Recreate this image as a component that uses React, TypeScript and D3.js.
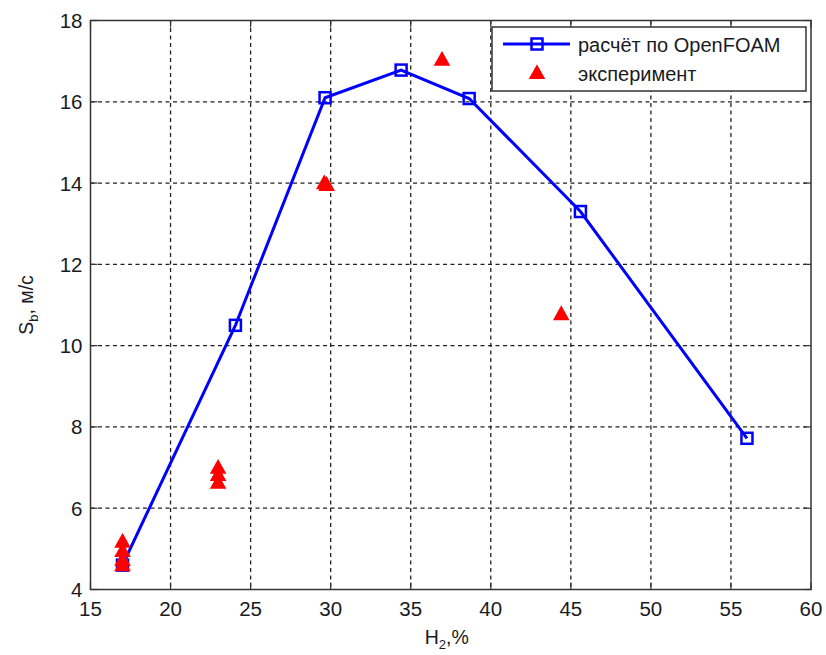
import React from "react";
import * as d3 from "d3";

// Burning velocity vs hydrogen content
const calcH2 = [17.0, 24.05, 29.65, 34.4, 38.65, 45.6, 56.0];
const calcSb = [4.6, 10.5, 16.1, 16.78, 16.08, 13.3, 7.72];

const expH2 = [17.0, 17.0, 17.0, 17.0, 22.97, 22.97, 22.97, 29.6, 29.75, 36.95, 44.4];
const expSb = [5.2, 4.97, 4.75, 4.62, 7.02, 6.84, 6.65, 14.02, 13.98, 17.06, 10.8];

const xTicks = [15, 20, 25, 30, 35, 40, 45, 50, 55, 60];
const yTicks = [4, 6, 8, 10, 12, 14, 16, 18];

const legendLabels = ["расчёт по OpenFOAM", "эксперимент"];

const W = 826;
const H = 655;
const M = { left: 90.5, right: 811, top: 20.5, bottom: 589.5 };
const FONT = "'Liberation Sans', Arial, sans-serif";

function triPath(cx: number, cy: number, w = 14, h = 12.5) {
  return `M${cx},${cy - h / 2}L${cx + w / 2},${cy + h / 2}L${cx - w / 2},${cy + h / 2}Z`;
}

export default function App() {
  const x = d3.scaleLinear().domain([15, 60]).range([M.left, M.right]);
  const y = d3.scaleLinear().domain([4, 18]).range([M.bottom, M.top]);

  const calc = calcH2.map((v, i) => [v, calcSb[i]] as [number, number]);
  const exp = expH2.map((v, i) => [v, expSb[i]] as [number, number]);

  const line = d3
    .line<[number, number]>()
    .x((d) => x(d[0]))
    .y((d) => y(d[1]));

  const tickLen = 7;
  const gridColor = "#222";
  const sq = 11;

  return (
    <svg
      width={W}
      height={H}
      style={{ position: "absolute", left: 0, top: 0, background: "#fff" }}
      fontFamily={FONT}
    >
      <rect x={0} y={0} width={W} height={H} fill="#fff" />

      {/* grid */}
      <g stroke={gridColor} strokeWidth={1.3} strokeDasharray="4,3.5">
        {xTicks.slice(1, -1).map((t) => (
          <line key={"gx" + t} x1={x(t)} x2={x(t)} y1={M.top} y2={M.bottom} />
        ))}
        {yTicks.slice(1, -1).map((t) => (
          <line key={"gy" + t} x1={M.left} x2={M.right} y1={y(t)} y2={y(t)} />
        ))}
      </g>

      {/* ticks, inward on all sides */}
      <g stroke="#333" strokeWidth={1.2}>
        {xTicks.map((t) => (
          <g key={"tx" + t}>
            <line x1={x(t)} x2={x(t)} y1={M.bottom} y2={M.bottom - tickLen} />
            <line x1={x(t)} x2={x(t)} y1={M.top} y2={M.top + tickLen} />
          </g>
        ))}
        {yTicks.map((t) => (
          <g key={"ty" + t}>
            <line x1={M.left} x2={M.left + tickLen} y1={y(t)} y2={y(t)} />
            <line x1={M.right} x2={M.right - tickLen} y1={y(t)} y2={y(t)} />
          </g>
        ))}
      </g>

      {/* frame */}
      <rect
        x={M.left}
        y={M.top}
        width={M.right - M.left}
        height={M.bottom - M.top}
        fill="none"
        stroke="#333"
        strokeWidth={1.5}
      />

      {/* tick labels */}
      <g fontSize={20.5} fill="#1a1a22">
        {xTicks.map((t) => (
          <text key={"lx" + t} x={x(t)} y={M.bottom + 26} textAnchor="middle">
            {t}
          </text>
        ))}
        {yTicks.map((t) => (
          <text key={"ly" + t} x={M.left - 8} y={y(t) + 7.5} textAnchor="end">
            {t}
          </text>
        ))}
      </g>

      {/* axis titles */}
      <text x={(M.left + M.right) / 2 - 4} y={644} textAnchor="middle" fontSize={19.5} fill="#1a1a22">
        H<tspan fontSize={13} dy={4.5}>2</tspan>
        <tspan dy={-4.5}>,%</tspan>
      </text>
      <text
        transform={`translate(33,305) rotate(-90)`}
        textAnchor="middle"
        fontSize={19.5}
        fill="#1a1a22"
      >
        S<tspan fontSize={13} dy={5}>b</tspan>
        <tspan dy={-5}>, м/с</tspan>
      </text>

      {/* calculated series */}
      <path d={line(calc) || ""} fill="none" stroke="#0000ff" strokeWidth={3} />
      {calc.map((d, i) => (
        <rect
          key={"s" + i}
          x={x(d[0]) - sq / 2}
          y={y(d[1]) - sq / 2}
          width={sq}
          height={sq}
          fill="none"
          stroke="#0000ff"
          strokeWidth={2.5}
        />
      ))}

      {/* experimental points */}
      {exp.map((d, i) => (
        <path key={"t" + i} d={triPath(x(d[0]), y(d[1]))} fill="#ff0000" stroke="#ff0000" strokeWidth={1.5} strokeLinejoin="miter" />
      ))}

      {/* legend */}
      <g>
        <rect x={492} y={27} width={314} height={64} fill="#fff" stroke="#333" strokeWidth={1.5} />
        <line x1={503} x2={570} y1={44} y2={44} stroke="#0000ff" strokeWidth={3} />
        <rect x={537 - sq / 2} y={44 - sq / 2} width={sq} height={sq} fill="none" stroke="#0000ff" strokeWidth={2.5} />
        <path d={triPath(537, 72)} fill="#ff0000" stroke="#ff0000" strokeWidth={1.5} />
        <text x={578} y={51.5} fontSize={20} fill="#1a1a22">
          {legendLabels[0]}
        </text>
        <text x={578} y={80.5} fontSize={20} fill="#1a1a22">
          {legendLabels[1]}
        </text>
      </g>
    </svg>
  );
}
